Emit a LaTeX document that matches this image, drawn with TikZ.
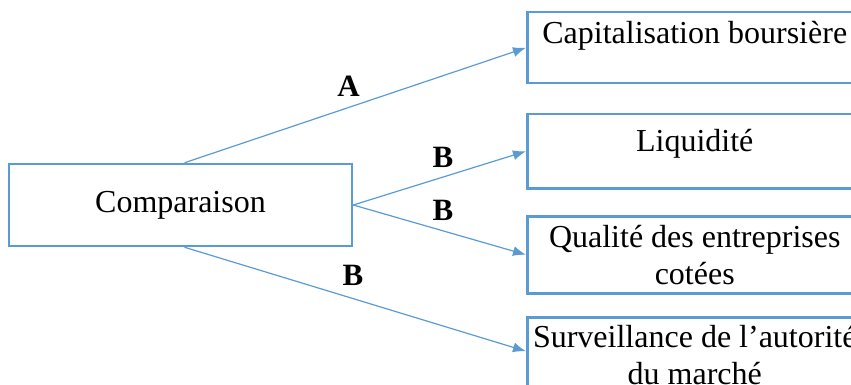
\documentclass[tikz,border=0pt]{standalone}
\usepackage{fontspec}
\setmainfont{Liberation Serif}
\usetikzlibrary{arrows.meta,positioning}
\definecolor{BoxBlue}{RGB}{91, 155, 213}

\begin{document}
\begin{tikzpicture}[x=1pt, y=-1pt,
  box/.style={draw=BoxBlue, line width=2.5pt, inner sep=0pt, align=center,
    font=\fontsize{32}{37}\selectfont},
  link/.style={draw=BoxBlue, line width=1.2pt, -{Latex[length=13pt,width=10pt]}},
  lab/.style={font=\fontsize{31}{36}\selectfont\bfseries}]
  \useasboundingbox (0,0) rectangle (851,385);
  \clip (0,0) rectangle (851,385);

  % Source box
  \node[box, minimum width=343pt, minimum height=82pt] (comp) at (180.5,205) {Comparaison};

  % Criteria boxes
  \node[box, anchor=north west, minimum width=335pt, text height=31pt, text depth=40pt]
    (cap) at (526,11) {Capitalisation boursière};
  \node[box, anchor=north west, minimum width=335pt, text height=37pt, text depth=37pt]
    (liq) at (526,113) {Liquidité};
  \node[box, anchor=north west, minimum width=335pt, minimum height=77pt]
    (qual) at (526,215) {Qualité des entreprises\\cotées};
  \node[box, anchor=north west, minimum width=335pt, minimum height=75pt]
    (surv) at (526,316) {Surveillance de l’autorité\\du marché};

  % Links
  \draw[link] ([xshift=4pt]comp.north) -- (cap.west);
  \draw[link] (comp.east) -- (liq.west);
  \draw[link] (comp.east) -- (qual.west);
  \draw[link] ([xshift=4pt]comp.south) -- ([yshift=3.5pt]surv.west);

  % Labels
  \node[lab] (labA) at (348.5,86.5) {A};
  \node[lab] (labB1) at (443,157.5) {B};
  \node[lab] (labB2) at (443,210.5) {B};
  \node[lab] (labB3) at (353,275) {B};
\end{tikzpicture}
\end{document}
